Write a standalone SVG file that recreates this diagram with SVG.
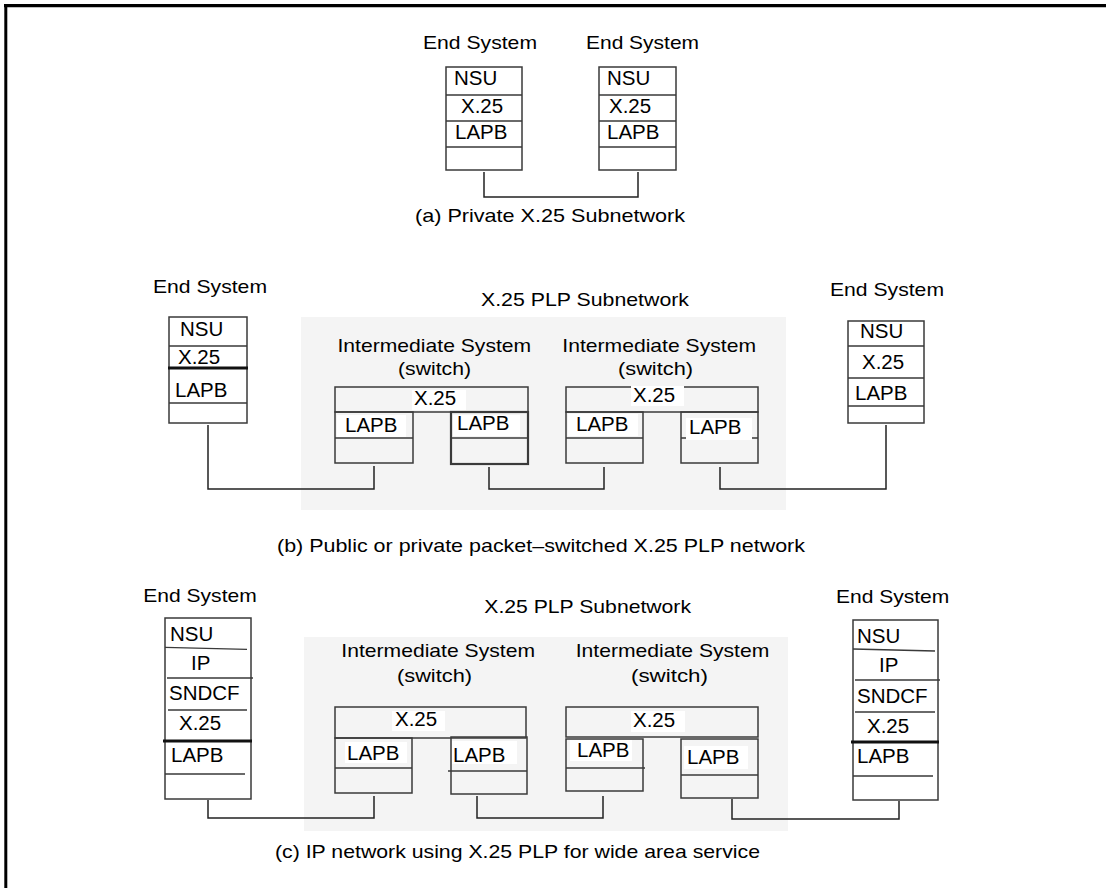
<svg xmlns="http://www.w3.org/2000/svg" width="1106" height="888" viewBox="0 0 1106 888">
<style>
text{font-family:"Liberation Sans",Arial,Helvetica,sans-serif;fill:#000}
.h{font-size:19px}
.l{font-size:20.5px}
.box{fill:none;stroke:#3a3a3a;stroke-width:1.5}
.esb{fill:#fff;stroke:#3a3a3a;stroke-width:1.5}
.ln{stroke:#3a3a3a;stroke-width:1.3;fill:none}
.thick{stroke:#111;stroke-width:3;fill:none}
.conn{fill:none;stroke:#222;stroke-width:1.5}
.bg{fill:#fff}
.net{fill:#f4f4f4}
</style>
<rect width="1106" height="888" fill="#fff"/>
<g id="frame">
<path d="M4,5.6 H1106" stroke="#000" stroke-width="3.2" fill="none"/>
<path d="M5.8,4 V888" stroke="#000" stroke-width="3" fill="none"/>
</g>

<!-- (a) -->
<g id="a-es1">
<text class="h" x="423" y="49" textLength="114" lengthAdjust="spacingAndGlyphs">End System</text>
<rect class="esb" x="446" y="67" width="76" height="103"/>
<path class="ln" d="M446,95 H522 M446,121 H522 M446,147 H522"/>
<text class="l" x="454" y="85">NSU</text>
<text class="l" x="461" y="113">X.25</text>
<text class="l" x="455" y="139">LAPB</text>
</g>
<g id="a-es2">
<text class="h" x="586" y="49" textLength="113" lengthAdjust="spacingAndGlyphs">End System</text>
<rect class="esb" x="599" y="67" width="77" height="103"/>
<path class="ln" d="M599,95 H676 M599,121 H676 M599,147 H676"/>
<text class="l" x="607" y="85">NSU</text>
<text class="l" x="609" y="113">X.25</text>
<text class="l" x="607" y="139">LAPB</text>
</g>
<text id="cap-a" class="h" x="415" y="222" textLength="270" lengthAdjust="spacingAndGlyphs">(a) Private X.25 Subnetwork</text>

<!-- (b) -->
<g id="b-net">
<rect class="net" x="301" y="317" width="485" height="193"/>
<text class="h" x="481" y="306" textLength="208" lengthAdjust="spacingAndGlyphs">X.25 PLP Subnetwork</text>
</g>
<g id="b-es1">
<text class="h" x="153" y="293" textLength="114" lengthAdjust="spacingAndGlyphs">End System</text>
<rect class="esb" x="169" y="317" width="78" height="106"/>
<path class="ln" d="M169,346 H247 M169,403 H247"/>
<path class="thick" d="M168,368 H248"/>
<text class="l" x="180" y="336">NSU</text>
<text class="l" x="178" y="364">X.25</text>
<text class="l" x="175" y="397">LAPB</text>
</g>
<g id="b-is1">
<text class="h" x="337.5" y="352" textLength="193.7" lengthAdjust="spacingAndGlyphs">Intermediate System</text>
<text class="h" x="398" y="375" textLength="73" lengthAdjust="spacingAndGlyphs">(switch)</text>
<rect class="box" x="335" y="387" width="193" height="25"/>
<rect class="box" x="335" y="412" width="78" height="51"/>
<path class="ln" d="M335,438 H413"/>
<rect class="box" x="451" y="412" width="77" height="52" style="stroke-width:2.2"/>
<path class="ln" d="M451,438 H528"/>
<rect class="bg" x="412" y="390" width="54" height="20"/>
<text class="l" x="414" y="405">X.25</text>
<rect class="bg" x="337" y="415" width="69" height="22"/>
<text class="l" x="345" y="432">LAPB</text>
<rect class="bg" x="453" y="415" width="67" height="21"/>
<text class="l" x="457" y="430">LAPB</text>
</g>
<g id="b-is2">
<text class="h" x="562.3" y="352" textLength="193.7" lengthAdjust="spacingAndGlyphs">Intermediate System</text>
<text class="h" x="618" y="375" textLength="75" lengthAdjust="spacingAndGlyphs">(switch)</text>
<rect class="box" x="566" y="387" width="192" height="25"/>
<rect class="box" x="566" y="412" width="77" height="51"/>
<path class="ln" d="M566,438 H643"/>
<rect class="box" x="681" y="412" width="77" height="51"/>
<path class="ln" d="M681,438 H758"/>
<rect class="bg" x="631" y="386" width="53" height="20"/>
<text class="l" x="633" y="402">X.25</text>
<rect class="bg" x="568" y="414" width="70" height="22"/>
<text class="l" x="576" y="431">LAPB</text>
<rect class="bg" x="686" y="418" width="66" height="22"/>
<text class="l" x="689" y="434">LAPB</text>
</g>
<g id="b-es2">
<text class="h" x="830" y="296" textLength="114" lengthAdjust="spacingAndGlyphs">End System</text>
<rect class="esb" x="848" y="321" width="76" height="102"/>
<path class="ln" d="M848,346 H924 M848,378 H924 M848,406 H924"/>
<text class="l" x="860" y="338">NSU</text>
<text class="l" x="862" y="369">X.25</text>
<text class="l" x="855" y="400">LAPB</text>
</g>
<text id="cap-b" class="h" x="277" y="552" textLength="528" lengthAdjust="spacingAndGlyphs">(b) Public or private packet–switched X.25 PLP network</text>

<!-- (c) -->
<g id="c-net">
<rect class="net" x="304" y="637" width="484" height="194"/>
<text class="h" x="484.3" y="613" textLength="206.7" lengthAdjust="spacingAndGlyphs">X.25 PLP Subnetwork</text>
</g>
<g id="c-es1">
<text class="h" x="143.3" y="602" textLength="113.4" lengthAdjust="spacingAndGlyphs">End System</text>
<rect class="esb" x="165" y="618" width="86" height="181"/>
<path class="ln" d="M165,647.3 L247,649.3 M167,678 H253 M168,710 H247 M165,774 H245"/>
<path class="thick" d="M163,741 H252"/>
<text class="l" x="170" y="641">NSU</text>
<text class="l" x="191" y="670">IP</text>
<text class="l" x="169" y="700">SNDCF</text>
<text class="l" x="179" y="730">X.25</text>
<text class="l" x="171" y="762">LAPB</text>
</g>
<g id="c-is1">
<text class="h" x="341.3" y="657.3" textLength="193.7" lengthAdjust="spacingAndGlyphs">Intermediate System</text>
<text class="h" x="397" y="681.7" textLength="75" lengthAdjust="spacingAndGlyphs">(switch)</text>
<rect class="box" x="335" y="707" width="191" height="31"/>
<rect class="box" x="335" y="738" width="77" height="55"/>
<path class="ln" d="M335,768 H412"/>
<rect class="box" x="451" y="737" width="76" height="57"/>
<path class="ln" d="M448,771 H527"/>
<rect class="bg" x="392" y="711" width="53" height="20"/>
<text class="l" x="395" y="726">X.25</text>
<rect class="bg" x="345" y="742" width="62" height="21"/>
<text class="l" x="347" y="760">LAPB</text>
<rect class="bg" x="452" y="741" width="65" height="23"/>
<text class="l" x="453" y="762">LAPB</text>
</g>
<g id="c-is2">
<text class="h" x="575.7" y="657.3" textLength="193.6" lengthAdjust="spacingAndGlyphs">Intermediate System</text>
<text class="h" x="631" y="681.7" textLength="77" lengthAdjust="spacingAndGlyphs">(switch)</text>
<rect class="box" x="566" y="707" width="192" height="30"/>
<rect class="box" x="566" y="739" width="77" height="52"/>
<path class="ln" d="M566,768 H645"/>
<rect class="box" x="681" y="739" width="77" height="59"/>
<path class="ln" d="M681,775 H758"/>
<rect class="bg" x="631" y="711" width="54" height="21"/>
<text class="l" x="633" y="727">X.25</text>
<rect class="bg" x="570" y="740" width="62" height="21"/>
<text class="l" x="577" y="757">LAPB</text>
<rect class="bg" x="684" y="746" width="64" height="23"/>
<text class="l" x="687" y="764">LAPB</text>
</g>
<g id="c-es2">
<text class="h" x="836" y="603" textLength="113.3" lengthAdjust="spacingAndGlyphs">End System</text>
<rect class="esb" x="853" y="620" width="85" height="180"/>
<path class="ln" d="M853,649 L935,651 M855,680 H940 M855,712 H935 M853,776 H933"/>
<path class="thick" d="M851,742 H939"/>
<text class="l" x="857" y="643">NSU</text>
<text class="l" x="879" y="672">IP</text>
<text class="l" x="857" y="703">SNDCF</text>
<text class="l" x="867" y="733">X.25</text>
<text class="l" x="857" y="763">LAPB</text>
</g>
<text id="cap-c" class="h" x="275" y="858" textLength="485" lengthAdjust="spacingAndGlyphs">(c) IP network using X.25 PLP for wide area service</text>

<g id="connectors">
<path class="conn" d="M484,172 V197 H638 V172"/>
<path class="conn" d="M208,425 V489 H374 V466"/>
<path class="conn" d="M489,467 V489 H604 V467"/>
<path class="conn" d="M720,467 V489 H886 V425"/>
<path class="conn" d="M208,800 V818 H374 V796"/>
<path class="conn" d="M477,796 V818 H603 V796"/>
<path class="conn" d="M732,799 V819 H899 V801"/>
</g>
</svg>
